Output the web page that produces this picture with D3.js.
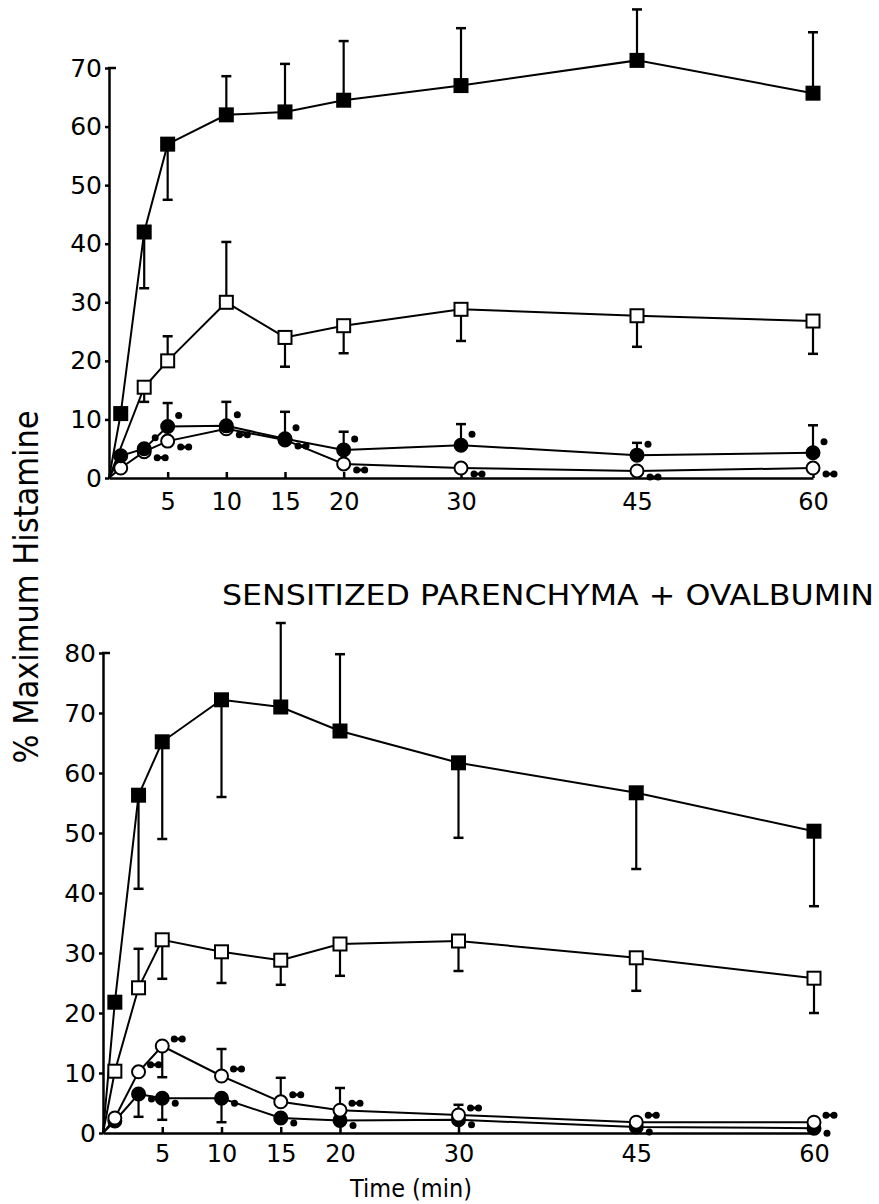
<!DOCTYPE html>
<html>
<head>
<meta charset="utf-8">
<script src="https://cdn.jsdelivr.net/npm/d3@7"></script>
<style>
    body { margin: 0; background: #fff; }
    svg { display: block; background: #fff; }
    .axis path, .axis line { stroke: #000; stroke-width: 2.5; }
    .axis text { font-family: 'DejaVu Sans', sans-serif; fill: #000; }
    .label { font-family: 'DejaVu Sans', sans-serif; fill: #000; }
</style>
</head>
<body>
<svg id="chart" width="879" height="1204"></svg>
<script>
/**
 * Data: histamine release (% maximum) over time, two panels.
 * Each series is indexed by `times`; null = no point drawn.
 * Error arrays hold the value at the tip of the (one-sided) error bar.
 */
const times = [0, 1, 3, 5, 10, 15, 20, 30, 45, 60];
const xTicks = [5, 10, 15, 20, 30, 45, 60];
const topYTicks = [0, 10, 20, 30, 40, 50, 60, 70];
const bottomYTicks = [0, 10, 20, 30, 40, 50, 60, 70, 80];
const sigTimes = [3, 5, 10, 15, 20, 30, 45, 60];

// Upper panel
const topSolidSquare = [0, 11, 42, 57, 62, 62.5, 64.5, 67, 71.3, 65.7];
const topSolidSquareErr = [null, null, 32.4, 47.5, 68.6, 70.7, 74.6, 76.8, 80, 76.1];
const topOpenSquare = [0, null, 15.5, 20, 30, 24, 26, 28.8, 27.7, 26.8];
const topOpenSquareErr = [null, null, 13, 24.2, 40.3, 19, 21.3, 23.4, 22.4, 21.2];
const topOpenCircle = [0, 1.7, 4.5, 6.3, 8.4, 6.5, 2.4, 1.7, 1.2, 1.7];
const topOpenCircleErr = [null, null, null, null, null, null, null, null, null, null];
const topSolidCircle = [0, 3.8, 5, 8.8, 8.9, 6.7, 4.8, 5.6, 3.9, 4.3];
const topSolidCircleErr = [null, null, null, 12.8, 13, 11.3, 7.9, 9.2, 6, 9];

// Lower panel: sensitized parenchyma + ovalbumin
const botSolidSquare = [0, 21.8, 56.3, 65.2, 72.2, 71, 67, 61.7, 56.7, 50.3];
const botSolidSquareErr = [null, null, 40.7, 49, 56, 85, 79.8, 49.2, 44, 37.8];
const botOpenSquare = [0, 10.3, 24.2, 32.2, 30.2, 28.8, 31.5, 32, 29.2, 25.8];
const botOpenSquareErr = [null, null, 30.7, 25.7, 25, 24.7, 26.2, 27, 23.7, 20];
const botSolidCircle = [0, 2, 6.5, 5.8, 5.8, 2.5, 2.1, 2.2, 1, 0.8];
const botSolidCircleErr = [null, null, 2.7, 2.2, 1.8, null, null, null, null, null];
const botOpenCircle = [0, 2.5, 10.2, 14.5, 9.5, 5.2, 3.8, 3, 1.8, 1.8];
const botOpenCircleErr = [null, null, null, 9.3, 14, 9.2, 7.5, 4.7, null, null];

/**
 * Visual configs.
 */
const squareSize = 13,
    circleRadius = 6.5,
    capWidth = 10,
    dotRadius = 3.5;

const svg = d3.select('#chart');

const panels = [
    {
        xRange: [109, 813], yRange: [478, 68], yMax: 70, yTicks: topYTicks, xPad: 15,
        singleOffset: [11, -11], doubleOffset: [17, 6],
        series: [
            { values: topOpenSquare, err: topOpenSquareErr, shape: 'square', filled: false },
            { values: topSolidSquare, err: topSolidSquareErr, shape: 'square', filled: true },
            { values: topOpenCircle, err: topOpenCircleErr, shape: 'circle', filled: false, sig: 2 },
            { values: topSolidCircle, err: topSolidCircleErr, shape: 'circle', filled: true, sig: 1 }
        ]
    },
    {
        xRange: [103, 814], yRange: [1133, 653], yMax: 80, yTicks: bottomYTicks, xPad: 12,
        singleOffset: [13, 5], doubleOffset: [16, -7],
        series: [
            { values: botOpenSquare, err: botOpenSquareErr, shape: 'square', filled: false },
            { values: botSolidSquare, err: botSolidSquareErr, shape: 'square', filled: true },
            { values: botSolidCircle, err: botSolidCircleErr, shape: 'circle', filled: true, sig: 1 },
            { values: botOpenCircle, err: botOpenCircleErr, shape: 'circle', filled: false, sig: 2 }
        ]
    }
];

panels.forEach(p => drawPanel(svg, p));

// Shared labels
svg.append('text').attr('class', 'label')
    .attr('transform', 'translate(38,587) rotate(-90)')
    .attr('text-anchor', 'middle')
    .attr('textLength', 353).attr('lengthAdjust', 'spacingAndGlyphs')
    .style('font-size', '33px')
    .text('% Maximum Histamine');

svg.append('text').attr('class', 'label')
    .attr('x', 222).attr('y', 605)
    .attr('textLength', 652).attr('lengthAdjust', 'spacingAndGlyphs')
    .style('font-size', '28px')
    .text('SENSITIZED PARENCHYMA + OVALBUMIN');

svg.append('text').attr('class', 'label')
    .attr('x', 350).attr('y', 1197)
    .attr('textLength', 122).attr('lengthAdjust', 'spacingAndGlyphs')
    .style('font-size', '24px')
    .text('Time (min)');

function drawPanel(svg, p) {
    const x = d3.scaleLinear().domain([0, 60]).range(p.xRange),
        y = d3.scaleLinear().domain([0, p.yMax]).range(p.yRange);
    const g = svg.append('g');

    // Axes
    g.append('g').attr('class', 'axis')
        .attr('transform', 'translate(' + x(0) + ',0)')
        .call(d3.axisLeft(y).tickValues(p.yTicks).tickSizeInner(4).tickSizeOuter(0).tickPadding(3))
        .call(a => a.selectAll('text').style('font-size', '25px'));
    g.append('line')
        .attr('x1', x(0) - 1).attr('x2', x(0) + 7)
        .attr('y1', y(p.yMax)).attr('y2', y(p.yMax))
        .attr('stroke', '#000').attr('stroke-width', 2.5);

    g.append('g').attr('class', 'axis')
        .attr('transform', 'translate(0,' + y(0) + ')')
        .call(d3.axisBottom(x).tickValues(xTicks).tickSizeInner(-6).tickSizeOuter(0).tickPadding(p.xPad))
        .call(a => a.selectAll('text').style('font-size', '24px'));

    const rows = p.series.map(s => times.map((t, i) => ({ t: t, v: s.values[i], e: s.err[i] })));

    // Lines
    const line = d3.line().x(d => x(d.t)).y(d => y(d.v));
    rows.forEach(r => {
        g.append('path')
            .attr('d', line(r.filter(d => d.v != null)))
            .attr('fill', 'none').attr('stroke', '#000').attr('stroke-width', 2);
    });

    // Error bars
    rows.forEach(r => {
        r.filter(d => d.v != null && d.e != null).forEach(d => {
            g.append('line')
                .attr('x1', x(d.t)).attr('x2', x(d.t)).attr('y1', y(d.v)).attr('y2', y(d.e))
                .attr('stroke', '#000').attr('stroke-width', 2.2);
            g.append('line')
                .attr('x1', x(d.t) - capWidth / 2).attr('x2', x(d.t) + capWidth / 2)
                .attr('y1', y(d.e)).attr('y2', y(d.e))
                .attr('stroke', '#000').attr('stroke-width', 2.5);
        });
    });

    // Markers
    p.series.forEach((s, k) => {
        const pts = rows[k].filter(d => d.v != null && d.t > 0);
        if (s.shape === 'square') {
            g.selectAll(null).data(pts).enter().append('rect')
                .attr('x', d => x(d.t) - squareSize / 2).attr('y', d => y(d.v) - squareSize / 2)
                .attr('width', squareSize).attr('height', squareSize)
                .attr('fill', s.filled ? '#000' : '#fff')
                .attr('stroke', '#000').attr('stroke-width', 2);
        } else {
            g.selectAll(null).data(pts).enter().append('circle')
                .attr('cx', d => x(d.t)).attr('cy', d => y(d.v))
                .attr('r', circleRadius)
                .attr('fill', s.filled ? '#000' : '#fff')
                .attr('stroke', '#000').attr('stroke-width', 2);
        }

        // Significance marks: single dot or double dot next to the point
        if (s.sig) {
            const off = s.sig === 1 ? p.singleOffset : p.doubleOffset;
            rows[k].filter(d => sigTimes.includes(d.t)).forEach(d => {
                const cx = x(d.t) + off[0], cy = y(d.v) + off[1];
                if (s.sig === 1) {
                    g.append('circle').attr('cx', cx).attr('cy', cy).attr('r', dotRadius).attr('fill', '#000');
                } else {
                    g.append('line').attr('x1', cx - 4).attr('x2', cx + 4).attr('y1', cy).attr('y2', cy)
                        .attr('stroke', '#000').attr('stroke-width', 3);
                    g.append('circle').attr('cx', cx - 4).attr('cy', cy).attr('r', dotRadius).attr('fill', '#000');
                    g.append('circle').attr('cx', cx + 4).attr('cy', cy).attr('r', dotRadius).attr('fill', '#000');
                }
            });
        }
    });
}
</script>
</body>
</html>
